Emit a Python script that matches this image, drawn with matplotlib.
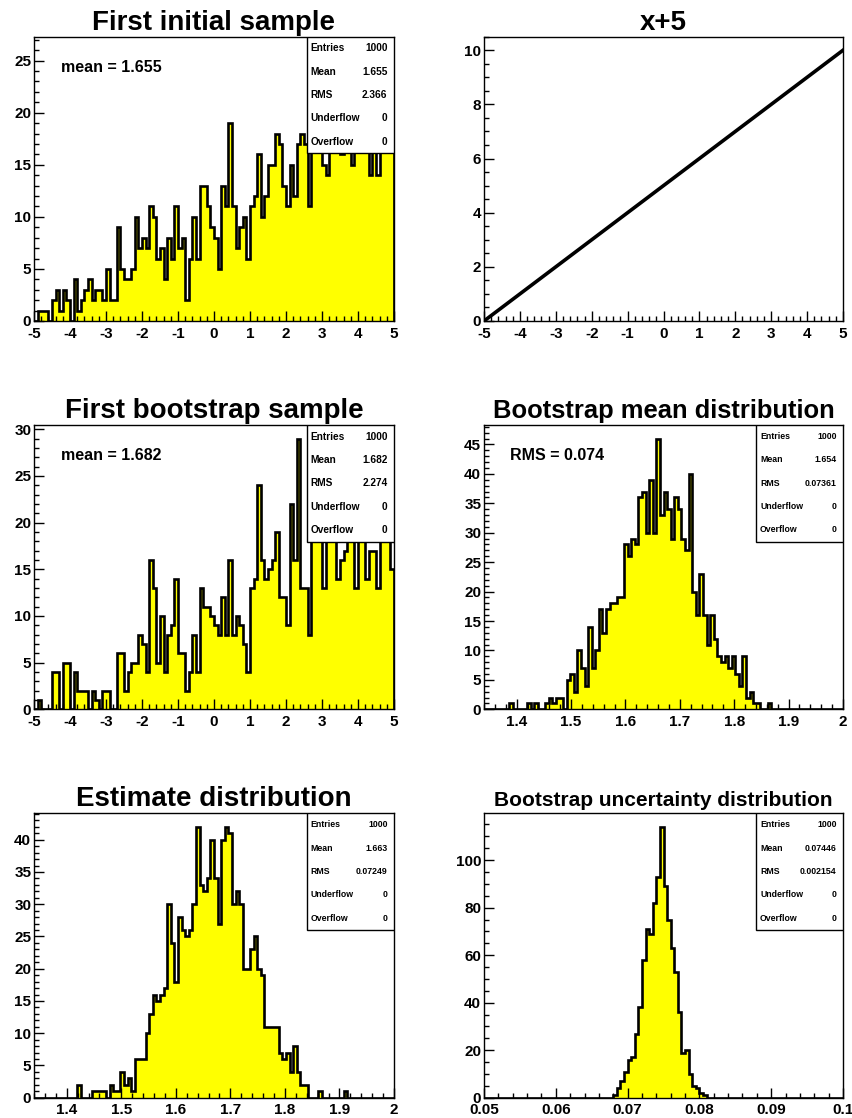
import numpy as np
import matplotlib
matplotlib.use("Agg")
import matplotlib.pyplot as plt
from matplotlib.patches import Rectangle
from matplotlib.ticker import MultipleLocator, FuncFormatter

plt.rcParams['font.family'] = ['Liberation Sans', 'DejaVu Sans']
plt.rcParams['font.weight'] = 'bold'

W, H = 852, 1118

# bin contents (100 bins per histogram)
initial_counts = [0, 1, 1, 1, 0, 2, 3, 1, 3, 2, 0, 4, 1, 2, 3, 4, 2, 3, 3, 2,
                  5, 2, 2, 9, 5, 4, 4, 5, 10, 7, 8, 7, 11, 10, 6, 7, 4, 8, 6, 11,
                  7, 8, 2, 6, 10, 6, 13, 13, 11, 9, 8, 5, 13, 11, 19, 11, 7, 9, 10, 6,
                  11, 12, 16, 10, 12, 15, 15, 18, 17, 13, 11, 15, 12, 17, 18, 17, 11, 19, 17, 19,
                  15, 14, 18, 26, 17, 16, 19, 20, 15, 18, 19, 17, 19, 14, 18, 14, 20, 18, 17, 17]
bootstrap_counts = [0, 1, 0, 0, 0, 4, 4, 0, 5, 5, 0, 4, 2, 2, 2, 0, 2, 1, 0, 2,
                    2, 0, 0, 6, 6, 2, 4, 5, 5, 8, 7, 4, 16, 13, 5, 10, 4, 8, 9, 14,
                    6, 6, 2, 4, 8, 4, 13, 11, 11, 10, 9, 8, 12, 8, 16, 8, 10, 9, 7, 4,
                    13, 14, 24, 16, 14, 15, 16, 19, 12, 12, 9, 22, 16, 29, 13, 13, 8, 20, 22, 18,
                    13, 21, 19, 24, 14, 16, 17, 18, 20, 13, 19, 21, 14, 17, 17, 13, 18, 19, 20, 15]
mean_counts = [0, 0, 0, 0, 0, 0, 0, 1, 0, 0, 0, 0, 1, 0, 1, 0, 0, 1, 2, 1,
               2, 2, 0, 5, 6, 3, 10, 7, 4, 14, 7, 10, 17, 13, 17, 18, 18, 19, 19, 28,
               26, 29, 28, 36, 37, 30, 39, 30, 46, 33, 37, 34, 29, 36, 34, 29, 27, 40, 20, 16,
               23, 16, 11, 16, 12, 9, 8, 9, 7, 9, 6, 4, 9, 2, 3, 1, 1, 0, 0, 1,
               0, 0, 0, 0, 0, 0, 0, 0, 0, 0, 0, 0, 0, 0, 0, 0, 0, 0, 0, 0]
estimate_counts = [0, 0, 0, 0, 0, 0, 0, 0, 0, 0, 0, 0, 2, 0, 0, 0, 1, 1, 1, 1,
                   0, 2, 1, 1, 4, 2, 3, 1, 6, 6, 6, 10, 13, 16, 15, 16, 17, 30, 24, 18,
                   28, 26, 25, 26, 30, 42, 33, 32, 34, 40, 34, 27, 40, 42, 41, 30, 32, 30, 20, 20,
                   23, 25, 20, 19, 11, 11, 11, 11, 7, 6, 7, 4, 8, 4, 2, 2, 0, 0, 0, 1,
                   0, 0, 0, 0, 0, 0, 1, 0, 0, 0, 0, 0, 0, 0, 0, 0, 0, 0, 0, 0]
sigma_counts = [0, 0, 0, 0, 0, 0, 0, 0, 0, 0, 0, 0, 0, 0, 0, 0, 0, 0, 0, 0,
                0, 0, 0, 0, 0, 0, 0, 0, 0, 0, 0, 0, 0, 0, 0, 0, 1, 4, 7, 11,
                16, 17, 27, 38, 58, 71, 69, 82, 93, 114, 89, 75, 63, 53, 36, 19, 20, 10, 5, 4,
                2, 1, 0, 0, 0, 0, 0, 0, 0, 0, 0, 0, 0, 0, 0, 0, 0, 0, 0, 0,
                0, 0, 0, 0, 0, 0, 0, 0, 0, 0, 0, 0, 0, 0, 0, 0, 0, 0, 0, 0]
line_x = [-5.0, 5.0]
line_y = [0.0, 10.0]

stat_labels = ["Entries", "Mean", "RMS", "Underflow", "Overflow"]
initial_stats = ["1000", "1.655", "2.366", "0", "0"]
bootstrap_stats = ["1000", "1.682", "2.274", "0", "0"]
mean_stats = ["1000", "1.654", "0.07361", "0", "0"]
estimate_stats = ["1000", "1.663", "0.07249", "0", "0"]
sigma_stats = ["1000", "0.07446", "0.002154", "0", "0"]

fig = plt.figure(figsize=(W / 100, H / 100), dpi=100, facecolor='white')

fmt = FuncFormatter(lambda v, p: '%g' % round(v, 6))


def panel(left, top, right, bottom, title, tsize):
    ax = fig.add_axes([left / W, 1 - bottom / H, (right - left) / W, (bottom - top) / H])
    ax.set_title(title, fontsize=tsize, fontweight='bold', pad=5)
    ax.tick_params(which='both', direction='in', top=False, right=False,
                   labelsize=11, width=1)
    ax.tick_params(which='major', length=7)
    ax.tick_params(which='minor', length=3.6)
    ax.tick_params(axis='x', pad=4)
    ax.tick_params(axis='y', pad=2)
    ax.xaxis.set_major_formatter(fmt)
    ax.yaxis.set_major_formatter(fmt)
    for s in ax.spines.values():
        s.set_linewidth(1.0)
        s.set_zorder(4)
    return ax


def hist(ax, counts, lo, hi):
    edges = np.linspace(lo, hi, len(counts) + 1)
    ax.stairs(counts, edges, fill=True, color='#ffff00', zorder=1)
    ax.stairs(counts, edges, color='black', linewidth=1.9, baseline=0, zorder=2)
    ax.set_xlim(lo, hi)
    ax.set_ylim(0, max(counts) * 1.05)


def stat_box(ax, values, fs):
    x0, y0 = 0.758, 1 - 116.7 / 284.5
    ax.add_patch(Rectangle((x0, y0), 1 - x0, 1 - y0, transform=ax.transAxes,
                           facecolor='white', edgecolor='black', lw=1.0, zorder=5))
    for i, (lab, val) in enumerate(zip(stat_labels, values)):
        yy = 1 - (i + 0.5) * (1 - y0) / 5
        ax.text(x0 + 0.011, yy, lab, transform=ax.transAxes, ha='left', va='center',
                fontsize=fs, zorder=6)
        ax.text(0.982, yy, val, transform=ax.transAxes, ha='right', va='center',
                fontsize=fs, zorder=6)


L1, R1 = 34, 394
L2, R2 = 484, 843
rows = [(36.7, 321), (425, 709.3), (813.3, 1097.7)]

# row 1
ax1 = panel(L1, rows[0][0], R1, rows[0][1], "First initial sample", 20)
hist(ax1, initial_counts, -5, 5)
ax1.xaxis.set_major_locator(MultipleLocator(1))
ax1.xaxis.set_minor_locator(MultipleLocator(0.2))
ax1.yaxis.set_major_locator(MultipleLocator(5))
ax1.yaxis.set_minor_locator(MultipleLocator(1))
ax1.text(0.076, 0.892, "mean = 1.655", transform=ax1.transAxes, fontsize=11.5, va='center')
stat_box(ax1, initial_stats, 7.3)

ax2 = panel(L2, rows[0][0], R2, rows[0][1], "x+5", 20)
ax2.plot(line_x, line_y, color='black', lw=2.6, zorder=3)
ax2.set_xlim(-5, 5)
ax2.set_ylim(0, 10.5)
ax2.xaxis.set_major_locator(MultipleLocator(1))
ax2.xaxis.set_minor_locator(MultipleLocator(0.2))
ax2.yaxis.set_major_locator(MultipleLocator(2))
ax2.yaxis.set_minor_locator(MultipleLocator(0.5))

# row 2
ax3 = panel(L1, rows[1][0], R1, rows[1][1], "First bootstrap sample", 20)
hist(ax3, bootstrap_counts, -5, 5)
ax3.xaxis.set_major_locator(MultipleLocator(1))
ax3.xaxis.set_minor_locator(MultipleLocator(0.2))
ax3.yaxis.set_major_locator(MultipleLocator(5))
ax3.yaxis.set_minor_locator(MultipleLocator(1))
ax3.text(0.076, 0.892, "mean = 1.682", transform=ax3.transAxes, fontsize=11.5, va='center')
stat_box(ax3, bootstrap_stats, 7.3)

ax4 = panel(L2, rows[1][0], R2, rows[1][1], "Bootstrap mean distribution", 18.4)
hist(ax4, mean_counts, 1.34, 2.0)
ax4.xaxis.set_major_locator(MultipleLocator(0.1))
ax4.xaxis.set_minor_locator(MultipleLocator(0.02))
ax4.yaxis.set_major_locator(MultipleLocator(5))
ax4.yaxis.set_minor_locator(MultipleLocator(1))
ax4.text(0.072, 0.892, "RMS = 0.074", transform=ax4.transAxes, fontsize=11.5, va='center')
stat_box(ax4, mean_stats, 6.3)

# row 3
ax5 = panel(L1, rows[2][0], R1, rows[2][1], "Estimate distribution", 20)
hist(ax5, estimate_counts, 1.34, 2.0)
ax5.xaxis.set_major_locator(MultipleLocator(0.1))
ax5.xaxis.set_minor_locator(MultipleLocator(0.02))
ax5.yaxis.set_major_locator(MultipleLocator(5))
ax5.yaxis.set_minor_locator(MultipleLocator(1))
stat_box(ax5, estimate_stats, 6.3)

ax6 = panel(L2, rows[2][0], R2, rows[2][1], "Bootstrap uncertainty distribution", 15)
hist(ax6, sigma_counts, 0.05, 0.1)
ax6.xaxis.set_major_locator(MultipleLocator(0.01))
ax6.xaxis.set_minor_locator(MultipleLocator(0.002))
ax6.yaxis.set_major_locator(MultipleLocator(20))
ax6.yaxis.set_minor_locator(MultipleLocator(5))
stat_box(ax6, sigma_stats, 6.3)

fig.savefig("out.png", dpi=100, facecolor='white')
